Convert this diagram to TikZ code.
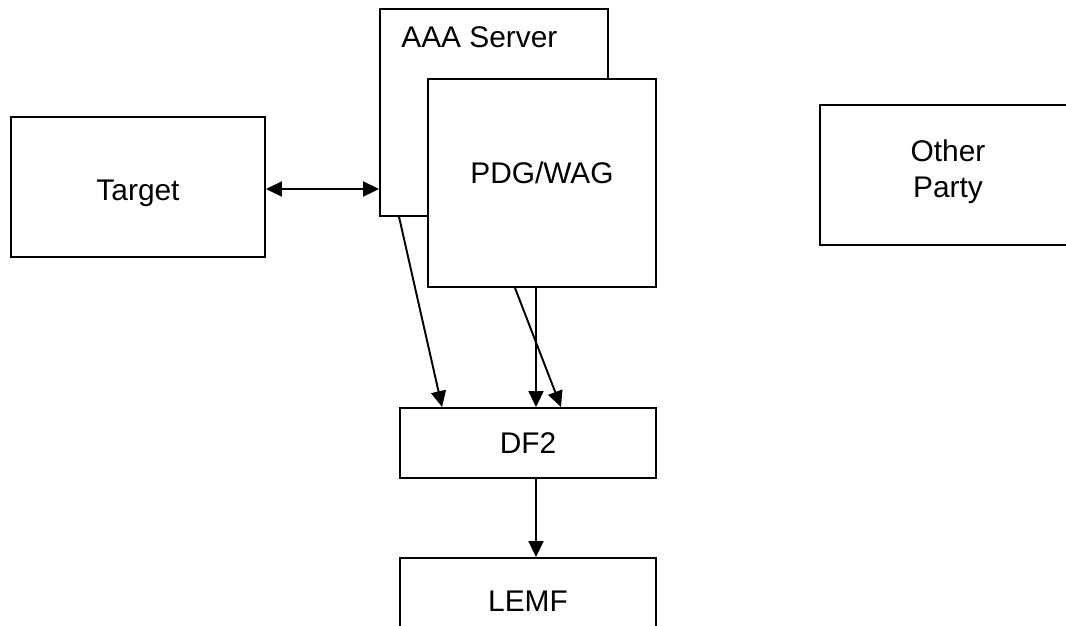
\documentclass[tikz,border=0pt]{standalone}
\usepackage{fontspec}
\setmainfont{Liberation Sans}
\usetikzlibrary{arrows.meta,calc}
\begin{document}
\begin{tikzpicture}[x=0.02cm, y=-0.02cm,
            box/.style = {draw, line width=1.1pt, fill=white, inner sep=0pt, text height=15.3pt, text depth=3.1pt, font=\fontsize{17}{20.5}\selectfont},
            tag/.style = {inner sep=0pt, text height=15.3pt, text depth=3.1pt, font=\fontsize{17}{20.5}\selectfont},
            link/.style = {line width=1.1pt, -{Triangle[length=0.32cm, width=0.3cm]}}]
            \useasboundingbox (0,0) rectangle (1066,626);
            \begin{scope}
            \clip (0,0) rectangle (1066,626);
            \node[box, minimum width=5.08cm, minimum height=2.8cm] (target) at (138,187) {};
            \node[tag] (targettext) at (138,190) {Target};
            \node[box, minimum width=4.56cm, minimum height=4.14cm] (aaa) at (494,112.5) {};
            \node[tag, anchor=west] (aaatext) at (401,37) {AAA Server};
            \node[box, minimum width=4.56cm, minimum height=4.16cm] (pdg) at (542,183) {};
            \node[tag] (pdgtext) at (542,172.5) {PDG/WAG};
            \node[box, minimum width=5.12cm, minimum height=2.8cm] (other) at (948,175) {};
            \node[inner sep=0pt, align=center, font=\fontsize{17}{20.5}\selectfont] (othertext) at (948,172) {Other\\Party};
            \node[box, minimum width=5.12cm, minimum height=1.4cm] (df2) at (528,443) {DF2};
            \node[box, minimum width=5.12cm, minimum height=1.72cm] (lemf) at (528,601) {LEMF};
            \end{scope}
            \draw[link, {Triangle[length=0.32cm, width=0.3cm]}-{Triangle[length=0.32cm, width=0.3cm]}] (target.east |- 0,189) -- (aaa.west |- 0,189);
            \draw[link] ($(aaa.south west)+(20,0)$) -- ($(df2.north west)+(43,0)$);
            \draw[link] ($(pdg.south)+(-6,0)$) -- ($(df2.north)+(8,0)$);
            \draw[link] ($(pdg.south)+(-27,0)$) -- ($(df2.north)+(33,0)$);
            \draw[link] ($(df2.south)+(8,0)$) -- ($(lemf.north)+(8,0)$);
        \end{tikzpicture}
\end{document}
